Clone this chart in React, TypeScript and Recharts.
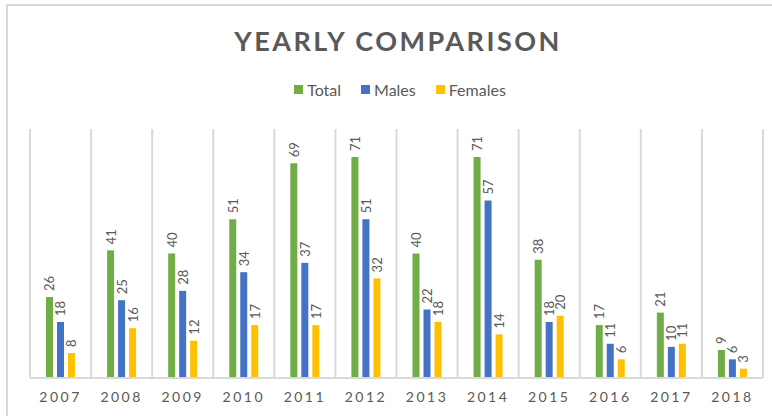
import { BarChart, Bar, XAxis, YAxis, CartesianGrid, LabelList } from 'recharts'

const YEARS = ['2007', '2008', '2009', '2010', '2011', '2012', '2013', '2014', '2015', '2016', '2017', '2018']
const TOTAL = [26, 41, 40, 51, 69, 71, 40, 71, 38, 17, 21, 9]
const MALES = [18, 25, 28, 34, 37, 51, 22, 57, 18, 11, 10, 6]
const FEMALES = [8, 16, 12, 17, 17, 32, 18, 14, 20, 6, 11, 3]

const SERIES = [
  { key: 'total', name: 'Total', color: '#70ad47' },
  { key: 'males', name: 'Males', color: '#4472c4' },
  { key: 'females', name: 'Females', color: '#ffc000' },
]

const data = YEARS.map((year, i) => ({
  year,
  total: TOTAL[i],
  males: MALES[i],
  females: FEMALES[i],
}))

const TEXT = '#595959'
const GRID = '#d9d9d9'
const FONT = 'Lato, "Open Sans", sans-serif'

function RotatedLabel(props: any) {
  const { x, y, width, value } = props
  const cx = x + width / 2
  const cy = y - 6
  return (
    <text
      x={cx}
      y={cy}
      transform={`rotate(-90, ${cx}, ${cy})`}
      textAnchor="start"
      dominantBaseline="central"
      fontSize={13}
      fill={TEXT}
      fontFamily={FONT}
    >
      {value}
    </text>
  )
}

function LegendBox() {
  return (
    <div
      style={{
        position: 'absolute',
        top: 80,
        left: 0,
        width: 800,
        display: 'flex',
        justifyContent: 'center',
        gap: 20,
        fontFamily: FONT,
        fontSize: 16,
        color: TEXT,
      }}
    >
      {SERIES.map((s) => (
        <span key={s.key} style={{ display: 'flex', alignItems: 'center' }}>
          <span style={{ width: 9, height: 9, background: s.color, marginRight: 4, display: 'inline-block' }} />
          {s.name}
        </span>
      ))}
    </div>
  )
}

export default function App() {
  return (
    <div style={{ position: 'absolute', left: 0, top: 0, width: 772, height: 416, overflow: 'hidden', background: '#fff' }}>
      <div
        style={{
          position: 'absolute',
          left: 6,
          top: 4,
          width: 820,
          height: 460,
          border: `2px solid ${GRID}`,
        }}
      />
      <div
        style={{
          position: 'absolute',
          top: 24,
          left: 0,
          width: 796,
          textAlign: 'center',
          fontFamily: FONT,
          fontWeight: 700,
          fontSize: 27,
          letterSpacing: 2.5,
          color: TEXT,
        }}
      >
        YEARLY COMPARISON
      </div>
      <LegendBox />
      <div style={{ position: 'absolute', left: 0, top: 0 }}>
        <BarChart
          width={772}
          height={416}
          data={data}
          margin={{ top: 129, right: 9, bottom: 8, left: 30 }}
          barSize={7}
          barGap={4}
        >
          <CartesianGrid
            horizontal={false}
            stroke={GRID}
            strokeWidth={2}
            verticalCoordinatesGenerator={({ offset }: any) =>
              Array.from({ length: YEARS.length + 1 }, (_, i) => offset.left + (i * offset.width) / YEARS.length)
            }
          />
          <XAxis
            dataKey="year"
            tickLine={false}
            axisLine={{ stroke: GRID, strokeWidth: 2 }}
            tick={{ fill: TEXT, fontSize: 14, fontFamily: FONT, letterSpacing: 2.5 }}
            tickMargin={8}
          />
          <YAxis hide domain={[0, 80]} />
          {SERIES.map((s) => (
            <Bar key={s.key} dataKey={s.key} name={s.name} fill={s.color} isAnimationActive={false}>
              <LabelList dataKey={s.key} content={RotatedLabel} />
            </Bar>
          ))}
        </BarChart>
      </div>
    </div>
  )
}
